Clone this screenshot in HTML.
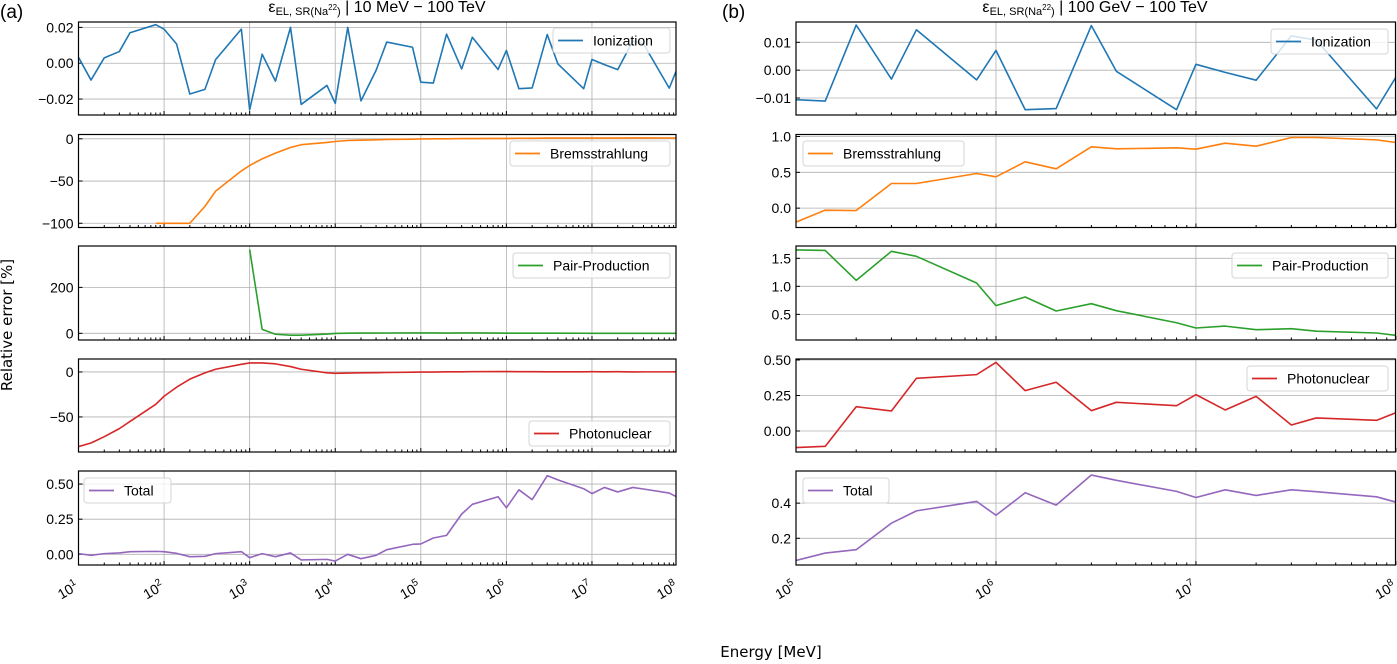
<!DOCTYPE html>
<html><head><meta charset="utf-8"><style>
html,body{margin:0;background:#fff;overflow:hidden;width:1397px;height:664px;}
svg{display:block;overflow:hidden;font-family:"Liberation Sans","DejaVu Sans",sans-serif;}
</style></head><body>
<svg id="fig" width="1397" height="664" viewBox="0 0 1397 664"></svg>
<script>
const mult = [1,1.4,2,3,4,8];
const energies = [];
for (let d=1; d<8; d++) for (const m of mult) energies.push(m*Math.pow(10,d));
energies.push(1e8);

const ionization = [0.0033,-0.0094,0.003,0.0065,0.017,0.0215,
 0.019,0.0107,-0.0172,-0.0146,0.002,0.019,
 -0.026,0.005,-0.010,0.020,-0.023,-0.0124,
 -0.0224,0.020,-0.021,-0.004,0.0118,0.0089,
 -0.0106,-0.0111,0.0162,-0.0032,0.0145,-0.0035,
 0.0071,-0.0142,-0.0138,0.016,-0.0004,-0.0142,
 0.0021,-0.0008,-0.0036,0.0123,0.0108,-0.0139,-0.0025];
const bremsstrahlung = [null,null,null,null,null,-100,
 -100,-100,-100,-80,-62,-38,
 -31.6,-23.7,-17,-10.3,-7,-4.3,
 -3.2,-2,-1.6,-1.2,-0.8,-0.4,
 -0.195,-0.028,-0.033,0.344,0.344,0.484,
 0.437,0.647,0.549,0.856,0.828,0.842,
 0.823,0.907,0.865,0.986,0.986,0.953,0.916];
const pairProduction = [null,null,null,null,null,null,
 null,null,null,null,null,null,
 365,17,-4,-8,-8,-3,
 -0.5,0.5,1,1.3,1.5,1.6,
 1.65,1.64,1.107,1.625,1.536,1.06,
 0.655,0.81,0.56,0.69,0.565,0.35,
 0.256,0.29,0.226,0.244,0.2,0.167,0.125];
const photonuclear = [-83,-79,-72,-63,-55,-36,
 -27,-17,-8,-1,3,8.5,
 10,10,9,6,3,-1,
 -1.5,-1.2,-1,-0.8,-0.6,-0.3,
 -0.117,-0.108,0.171,0.141,0.371,0.397,
 0.483,0.284,0.343,0.143,0.202,0.178,
 0.256,0.148,0.244,0.042,0.092,0.075,0.129];
const total = [0.005,-0.007,0.005,0.01,0.019,0.021,
 0.019,0.007,-0.017,-0.014,0.005,0.019,
 -0.024,0.005,-0.017,0.01,-0.04,-0.036,
 -0.048,0,-0.031,-0.007,0.033,0.071,
 0.074,0.116,0.135,0.286,0.356,0.41,
 0.331,0.459,0.389,0.56,0.53,0.467,
 0.432,0.476,0.444,0.476,0.465,0.436,0.406];

const seriesNames = ["Ionization","Bremsstrahlung","Pair-Production","Photonuclear","Total"];
const seriesData = [ionization,bremsstrahlung,pairProduction,photonuclear,total];
const colors = ["#1f77b4","#ff7f0e","#2ca02c","#d62728","#9467bd"];

const leftYLim = [[-0.0289,0.023],[-105,5.1],[-29,380],[-89,14.4],[-0.076,0.593]];
const leftYTicks = [[-0.02,0,0.02],[-100,-50,0],[0,200],[-50,0],[0,0.25,0.5]];
const leftYLabels = [["−0.02","0.00","0.02"],["−100","−50","0"],["0","200"],["−50","0"],["0.00","0.25","0.50"]];
const rightYLim = [[-0.0161,0.0173],[-0.27,1.028],[0.042,1.72],[-0.148,0.507],[0.048,0.583]];
const rightYTicks = [[-0.01,0,0.01],[0,0.5,1],[0.5,1,1.5],[0,0.25,0.5],[0.2,0.4]];
const rightYLabels = [["−0.01","0.00","0.01"],["0.0","0.5","1.0"],["0.5","1.0","1.5"],["0.00","0.25","0.50"],["0.2","0.4"]];
const leftXTicks = [1,2,3,4,5,6,7,8];
const rightXTicks = [5,6,7,8];

const NS="http://www.w3.org/2000/svg";
const svg=document.getElementById('fig');
function el(tag,attrs,parent){const e=document.createElementNS(NS,tag);for(const k in attrs)e.setAttribute(k,attrs[k]);(parent||svg).appendChild(e);return e;}

const rows=[[22,115],[134.5,227.5],[246,340],[359,452],[471,565]];
const panels=[
 {x0:78.5,x1:676,lx0:1,lx1:7.982,ylim:leftYLim,yt:leftYTicks,yl:leftYLabels,xt:leftXTicks,
  leg:[[553,28,117],[510,141,160],[513,253,157],[529,421,141],[84,478,87]],tag:"left"},
 {x0:796,x1:1395.5,lx0:5,lx1:7.998,ylim:rightYLim,yt:rightYTicks,yl:rightYLabels,xt:rightXTicks,
  leg:[[1271,29,117],[803,141,161],[1232,253,156],[1247,366,141],[803,478,86]],tag:"right"}
];

panels.forEach((p,pi)=>{
 const g=el('g',{});
 
 
 const xs=v=>p.x0+(Math.log10(v)-p.lx0)/(p.lx1-p.lx0)*(p.x1-p.x0);
 rows.forEach((r,ri)=>{
  const [y0,y1]=r;
  const [ymin,ymax]=p.ylim[ri];
  const ys=v=>y1-(v-ymin)/(ymax-ymin)*(y1-y0);
  const ax=el('g',{},g);
  
  
  const cid='c'+pi+ri;
  const cp=el('clipPath',{id:cid},ax);
  el('rect',{x:p.x0,y:y0,width:p.x1-p.x0,height:y1-y0},cp);
  p.xt.forEach(d=>{const x=xs(Math.pow(10,d)); if(x<=p.x1+0.5){const gl=el('line',{x1:x,x2:x,y1:y0,y2:y1,stroke:'#b0b0b0','stroke-width':0.8},ax);
   }});
  p.yt[ri].forEach((t,ti)=>{const y=ys(t);
   const gl=el('line',{x1:p.x0,x2:p.x1,y1:y,y2:y,stroke:'#b0b0b0','stroke-width':0.8},ax);
   
   el('line',{x1:p.x0,x2:p.x0+4,y1:y,y2:y,stroke:'#000','stroke-width':1},ax);
   const tx=el('text',{x:p.x0-5,y:y+5,'text-anchor':'end','font-size':14,fill:'#000'},ax);
   tx.textContent=p.yl[ri][ti];
   });
  for(let d=Math.floor(p.lx0);d<=8;d++){for(let m=1;m<=9;m++){const v=m*Math.pow(10,d);const x=xs(v);
   if(x<p.x0-0.5||x>p.x1+0.5)continue;
   el('line',{x1:x,x2:x,y1:y1,y2:y1-(m===1?4:2.5),stroke:'#000','stroke-width':1},ax);}}
  const data=seriesData[ri];
  let d='',pen=false;
  energies.forEach((e,i)=>{const v=data[i];if(v===null||v===undefined){pen=false;return;}
   d+=(pen?'L':'M')+xs(e).toFixed(2)+','+ys(v).toFixed(2);pen=true;});
  const path=el('path',{d:d,fill:'none',stroke:colors[ri],'stroke-width':1.6,'clip-path':'url(#'+cid+')','stroke-linejoin':'round'},ax);
  
  
  el('rect',{x:p.x0,y:y0,width:p.x1-p.x0,height:y1-y0,fill:'none',stroke:'#000','stroke-width':1.2},ax);
  const [lx,ly,lw]=p.leg[ri];
  const lg=el('g',{},ax);
  
  
  el('rect',{x:lx,y:ly,width:lw,height:25,rx:3,fill:'#fff','fill-opacity':0.8,stroke:'#d5d5d5','stroke-width':1},lg);
  el('line',{x1:lx+5,x2:lx+30,y1:ly+12.5,y2:ly+12.5,stroke:colors[ri],'stroke-width':1.8},lg);
  const lt=el('text',{x:lx+40,y:ly+17.5,'font-size':14,fill:'#000'},lg);
  lt.textContent=seriesNames[ri];
  if(ri===4){
   p.xt.forEach(dd=>{const x=xs(Math.pow(10,dd));
    const t=el('text',{transform:'translate('+(x+1)+','+(y1+24)+') rotate(-30)','text-anchor':'end','font-size':14,fill:'#000'},ax);
    
    t.innerHTML='10<tspan dy="-6" font-size="10">'+dd+'</tspan>';});
  }
 });
});

function txt(x,y,s,attrs,name){const t=el('text',Object.assign({x:x,y:y,fill:'#000'},attrs));t.innerHTML=s;
 return t;}
txt(0,18,'(a)',{'font-size':19},'panel-a-label');
txt(722,18,'(b)',{'font-size':19},'panel-b-label');
txt(377,12,'ε<tspan dy="3" font-size="11">EL, SR(Na<tspan dy="-5" font-size="8">22</tspan><tspan dy="5">)</tspan></tspan><tspan dy="-3"> | 10 MeV − 100 TeV</tspan>',{'font-size':16,'text-anchor':'middle'},'left-title');
txt(1095,12,'ε<tspan dy="3" font-size="11">EL, SR(Na<tspan dy="-5" font-size="8">22</tspan><tspan dy="5">)</tspan></tspan><tspan dy="-3"> | 100 GeV − 100 TeV</tspan>',{'font-size':16,'text-anchor':'middle'},'right-title');
txt(771,657,'Energy [MeV]',{'font-size':15,'text-anchor':'middle','font-family':'DejaVu Sans, sans-serif'},'x-axis-title');
txt(0,0,'Relative error [%]',{'font-size':15,'text-anchor':'middle','font-family':'DejaVu Sans, sans-serif',transform:'translate(12,325) rotate(-90)'},'y-axis-title');
</script>
</body></html>
